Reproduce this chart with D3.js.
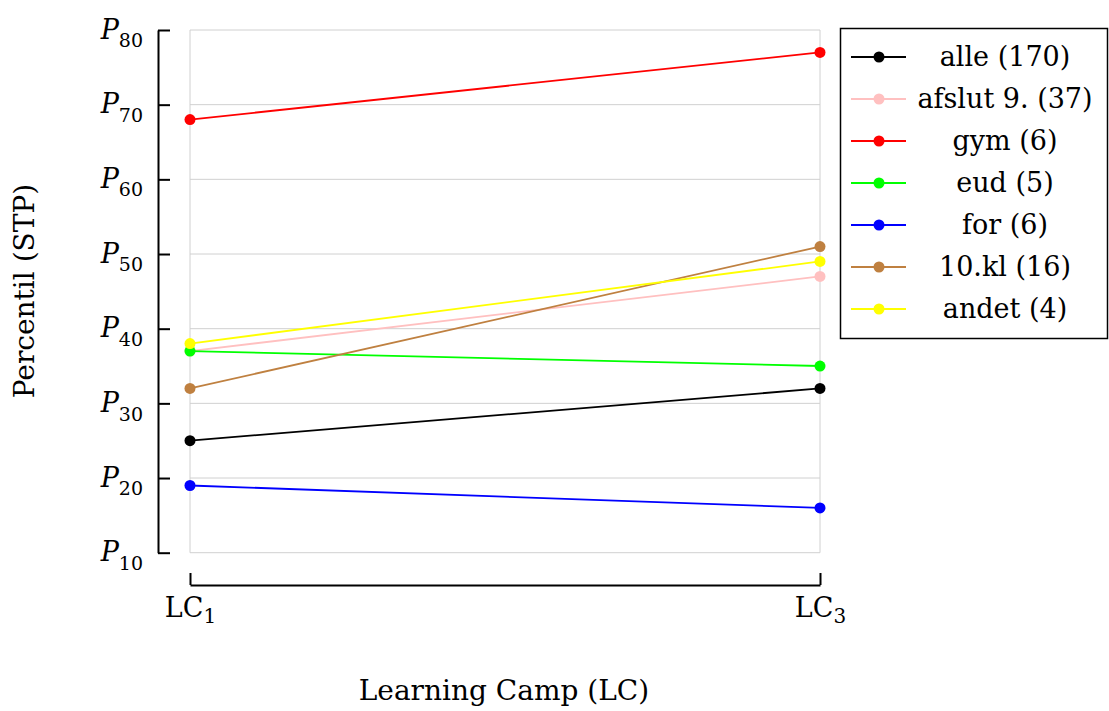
<!DOCTYPE html>
<html>
<head>
<meta charset="utf-8">
<script src="https://cdn.jsdelivr.net/npm/d3@7"></script>
<style>
  body { margin: 0; background: #fff; }
  svg { font-family: "DejaVu Serif", "Liberation Serif", serif; }
</style>
</head>
<body>
<svg id="chart" width="1109" height="711"></svg>
<script>
// camps on the x axis, subscripts shown in labels
const camps = ['LC1', 'LC3'];
const campSubs = ['1', '3'];

// percentile ticks
const yTicks = [10, 20, 30, 40, 50, 60, 70, 80];

// series
const groupNames = ['alle (170)', 'afslut 9. (37)', 'gym (6)', 'eud (5)', 'for (6)', '10.kl (16)', 'andet (4)'];
const groupColors = ['#000000', '#ffc0c0', '#ff0000', '#00ff00', '#0000ff', '#bf8040', '#ffff00'];
const lc1Values = [25, 37, 68, 37, 19, 32, 38];
const lc3Values = [32, 47, 77, 35, 16, 51, 49];

const font = '"DejaVu Serif", "Liberation Serif", serif';
const svg = d3.select('#chart');

const x = d3.scalePoint().domain(camps).range([190, 820]).padding(0);
const y = d3.scaleLinear().domain([10, 80]).range([552.7, 30]);

// grid
const grid = svg.append('g');
grid.selectAll('line.h')
    .data(yTicks)
    .join('line')
    .attr('x1', x.range()[0]).attr('x2', x.range()[1])
    .attr('y1', d => y(d)).attr('y2', d => y(d))
    .attr('stroke', '#d0d0d0').attr('stroke-width', 1);
grid.selectAll('line.v')
    .data(camps)
    .join('line')
    .attr('x1', d => x(d)).attr('x2', d => x(d))
    .attr('y1', y(80)).attr('y2', y(10))
    .attr('stroke', '#d0d0d0').attr('stroke-width', 1);

// y axis
const yAxis = svg.append('g')
    .attr('transform', 'translate(158,0)')
    .call(d3.axisLeft(y).tickValues(yTicks).tickSize(-12).tickSizeOuter(0).tickPadding(15).tickFormat(''))
    .attr('font-family', font);
yAxis.select('.domain').attr('stroke', '#000').attr('stroke-width', 2);
yAxis.selectAll('.tick line').attr('stroke', '#000').attr('stroke-width', 2);
yAxis.selectAll('.tick text').each(function(d) {
    const t = d3.select(this).attr('fill', '#000');
    t.append('tspan').attr('font-style', 'italic').attr('font-size', 27).attr('dy', '0.3em').text('P');
    t.append('tspan').attr('font-size', 19).attr('dy', '0.45em').text(d);
});

// x axis
const xAxis = svg.append('g')
    .attr('transform', 'translate(0,585)')
    .call(d3.axisBottom(x).tickSize(-12).tickSizeOuter(0).tickPadding(11).tickFormat(''))
    .attr('font-family', font);
xAxis.select('.domain').attr('stroke', '#000').attr('stroke-width', 2);
xAxis.selectAll('.tick line').attr('stroke', '#000').attr('stroke-width', 2);
xAxis.selectAll('.tick text').each(function(d, i) {
    const t = d3.select(this).attr('fill', '#000');
    t.append('tspan').attr('font-size', 27).attr('dy', '0.78em').text('LC');
    t.append('tspan').attr('font-size', 20).attr('dy', '0.3em').text(campSubs[i]);
});

// axis titles
svg.append('text')
    .attr('x', 504).attr('y', 700)
    .attr('text-anchor', 'middle')
    .attr('font-size', 28)
    .text('Learning Camp (LC)');
svg.append('text')
    .attr('transform', 'translate(34,291) rotate(-90)')
    .attr('text-anchor', 'middle')
    .attr('font-size', 28)
    .text('Percentil (STP)');

// series
const series = groupNames.map((name, i) => ({
    name, color: groupColors[i],
    values: [{ c: camps[0], v: lc1Values[i] }, { c: camps[1], v: lc3Values[i] }]
}));
const line = d3.line().x(d => x(d.c)).y(d => y(d.v));

const plot = svg.append('g');
series.forEach(s => {
    plot.append('path')
        .attr('d', line(s.values))
        .attr('fill', 'none')
        .attr('stroke', s.color)
        .attr('stroke-width', 1.8);
    plot.selectAll(null)
        .data(s.values)
        .join('circle')
        .attr('cx', d => x(d.c)).attr('cy', d => y(d.v))
        .attr('r', 5.5)
        .attr('fill', s.color);
});

// legend
const legend = svg.append('g').attr('transform', 'translate(840,28)');
legend.append('rect')
    .attr('x', 0.5).attr('y', 0.5)
    .attr('width', 267).attr('height', 310)
    .attr('fill', '#fff').attr('stroke', '#000').attr('stroke-width', 1.5);
const rows = legend.selectAll('g.row')
    .data(series)
    .join('g')
    .attr('transform', (d, i) => `translate(0,${29 + i * 42})`);
rows.append('line')
    .attr('x1', 11).attr('x2', 66)
    .attr('stroke', d => d.color).attr('stroke-width', 1.8);
rows.append('circle')
    .attr('cx', 39).attr('r', 5.5)
    .attr('fill', d => d.color);
rows.append('text')
    .attr('x', 165).attr('dy', '0.35em')
    .attr('text-anchor', 'middle')
    .attr('font-size', 27)
    .text(d => d.name);
</script>
</body>
</html>
